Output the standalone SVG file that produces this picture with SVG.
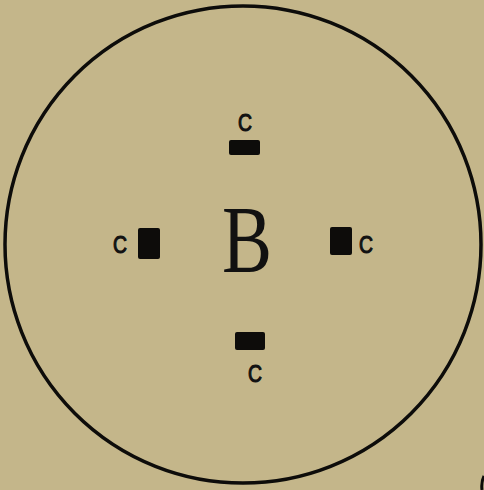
<svg xmlns="http://www.w3.org/2000/svg" width="484" height="490" viewBox="0 0 484 490">
<style>
.lbl{font-family:"Liberation Sans",Arial,sans-serif;font-size:23px;fill:#111;stroke:#111;stroke-width:1.1px;text-anchor:middle}
.blk{fill:#0d0c0a}
</style>
<rect width="484" height="490" fill="#c4b68a"/>
<g id="outline">
<ellipse cx="243" cy="244.5" rx="238" ry="238.5" fill="none" stroke="#0d0c0a" stroke-width="3.5"/>
<path d="M484,476 Q481,482 482,490" fill="none" stroke="#0d0c0a" stroke-width="3"/>
</g>
<g id="B">
<text x="247" y="272" font-family="'Liberation Serif',serif" font-size="96" fill="#111" text-anchor="middle" textLength="50" lengthAdjust="spacingAndGlyphs">B</text>
</g>
<g id="c-top">
<rect class="blk" x="229" y="140" width="31" height="15" rx="2"/>
<text class="lbl" x="245" y="131" textLength="14" lengthAdjust="spacingAndGlyphs">C</text>
</g>
<g id="c-left">
<rect class="blk" x="138" y="228" width="22" height="31" rx="2"/>
<text class="lbl" x="120" y="253" textLength="14" lengthAdjust="spacingAndGlyphs">C</text>
</g>
<g id="c-right">
<rect class="blk" x="330" y="227" width="22" height="28" rx="2"/>
<text class="lbl" x="366" y="253" textLength="14" lengthAdjust="spacingAndGlyphs">C</text>
</g>
<g id="c-bottom">
<rect class="blk" x="235" y="332" width="30" height="18" rx="2"/>
<text class="lbl" x="255" y="382" textLength="14" lengthAdjust="spacingAndGlyphs">C</text>
</g>
</svg>
